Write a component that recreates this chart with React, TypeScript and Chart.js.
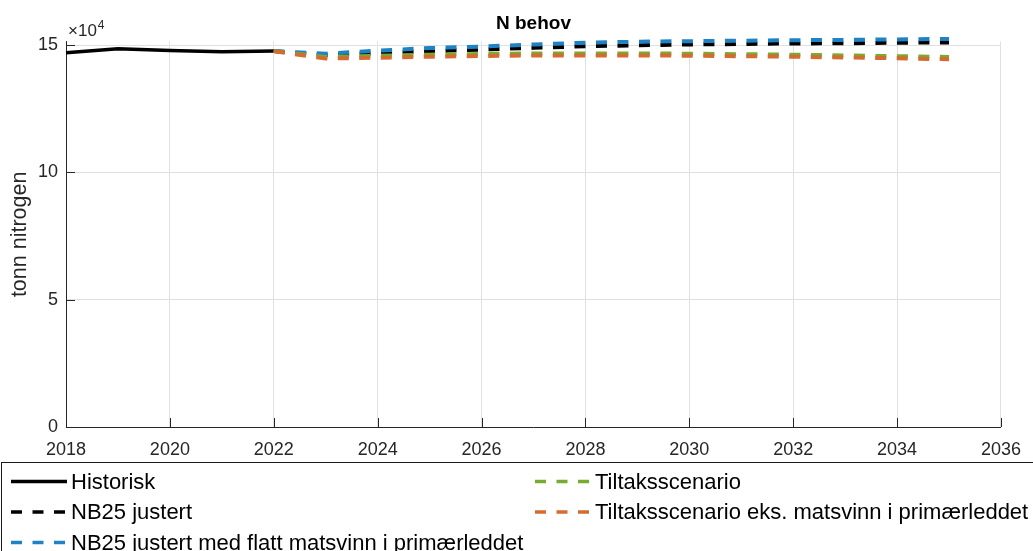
import React, { useEffect, useRef } from "react";
import { Chart, registerables } from "chart.js";

Chart.register(...registerables);

// Historical nitrogen demand (tonnes)
const historyYears = [2018, 2019, 2020, 2021, 2022];
const historisk = [147000, 148500, 147800, 147400, 147600];

// Scenario projections (tonnes)
const scenarioYears = [2022, 2023, 2024, 2025, 2026, 2027, 2028, 2029, 2030, 2031, 2032, 2033, 2034, 2035];
const nb25Justert = [147600, 146000, 146800, 147600, 148200, 148900, 149500, 149900, 150200, 150400, 150600, 150700, 150900, 151000];
const nb25Flat = [147600, 146600, 147800, 148800, 149400, 150200, 150900, 151300, 151500, 151700, 151900, 152000, 152200, 152400];
const tiltak = [147600, 145300, 145800, 146200, 146500, 146700, 146700, 146700, 146600, 146400, 146200, 145900, 145600, 145300];
const tiltakEks = [147600, 144700, 145000, 145400, 145700, 145900, 145900, 145900, 145800, 145600, 145400, 145100, 144800, 144400];

const seriesLabels = [
  "Historisk",
  "NB25 justert",
  "NB25 justert med flatt matsvinn i primærleddet",
  "Tiltaksscenario",
  "Tiltaksscenario eks. matsvinn i primærleddet",
];

// Axis ticks
const xTicks = [2018, 2020, 2022, 2024, 2026, 2028, 2030, 2032, 2034, 2036];
const yTicks = [0, 50000, 100000, 150000];
const yTickLabels = ["0", "5", "10", "15"];
const yExponent = "4";

const titleText = "N behov";
const yAxisTitle = "tonn nitrogen";

const FONT = "'Liberation Sans', Arial, Helvetica, sans-serif";
const AXIS_COLOR = "#262626";
const GRID_COLOR = "#e0e0e0";
const DASH = [11, 10.5];

const toPoints = (xs: number[], ys: number[]) => xs.map((x, i) => ({ x, y: ys[i] }));

const figurePlugin = {
  id: "figureDecor",
  beforeDraw(chart: any) {
    const { ctx, width, height } = chart;
    ctx.save();
    ctx.fillStyle = "#ffffff";
    ctx.fillRect(0, 0, width, height);
    ctx.restore();
  },
  afterDraw(chart: any) {
    const { ctx, chartArea } = chart;
    const xs = chart.scales.x;
    const ys = chart.scales.y;
    const { left, right, top, bottom } = chartArea;
    ctx.save();

    // inward tick marks
    ctx.strokeStyle = AXIS_COLOR;
    ctx.lineWidth = 1;
    ctx.setLineDash([]);
    ctx.beginPath();
    xTicks.forEach((v) => {
      const px = Math.round(xs.getPixelForValue(v)) + 0.5;
      ctx.moveTo(px, bottom);
      ctx.lineTo(px, bottom - 9);
    });
    yTicks.forEach((v) => {
      const py = Math.round(ys.getPixelForValue(v)) + 0.5;
      ctx.moveTo(left, py);
      ctx.lineTo(left + 9, py);
    });
    ctx.stroke();

    // exponent above the y axis
    ctx.fillStyle = AXIS_COLOR;
    ctx.textBaseline = "alphabetic";
    ctx.textAlign = "left";
    ctx.font = `17px ${FONT}`;
    const base = "\u00d710";
    ctx.fillText(base, left + 2, top - 6);
    const bw = ctx.measureText(base).width;
    ctx.font = `12px ${FONT}`;
    ctx.fillText(yExponent, left + 2 + bw + 1, top - 13);

    // title
    ctx.fillStyle = "#000000";
    ctx.font = `bold 19px ${FONT}`;
    ctx.textAlign = "center";
    ctx.fillText(titleText, (left + right) / 2, 29);

    // y axis title
    ctx.save();
    ctx.translate(20, (top + bottom) / 2);
    ctx.rotate(-Math.PI / 2);
    ctx.font = `21.5px ${FONT}`;
    ctx.fillStyle = AXIS_COLOR;
    ctx.textAlign = "center";
    ctx.textBaseline = "middle";
    ctx.fillText(yAxisTitle, 0, 0);
    ctx.restore();

    // legend box
    ctx.fillStyle = "#ffffff";
    ctx.strokeStyle = "#1a1a1a";
    ctx.lineWidth = 1;
    ctx.fillRect(1.5, 462.5, 1040, 120);
    ctx.strokeRect(1.5, 462.5, 1040, 120);

    const rows = [481.5, 512, 542.5];
    const cols = [11, 535];
    const layout = [
      [0, 0],
      [0, 1],
      [0, 2],
      [1, 0],
      [1, 1],
    ];
    const datasets = chart.data.datasets;
    ctx.font = `22px ${FONT}`;
    ctx.textAlign = "left";
    ctx.textBaseline = "middle";
    layout.forEach(([c, r], i) => {
      const ds = datasets[i];
      const x0 = cols[c];
      const y = rows[r];
      ctx.strokeStyle = ds.borderColor;
      ctx.lineWidth = 3.5;
      ctx.setLineDash(ds.borderDash || []);
      ctx.beginPath();
      ctx.moveTo(x0, y);
      ctx.lineTo(x0 + 56, y);
      ctx.stroke();
      ctx.setLineDash([]);
      ctx.fillStyle = "#000000";
      ctx.fillText(ds.label, x0 + 60, y + 1);
    });

    ctx.restore();
  },
};

export default function App() {
  const canvasRef = useRef<HTMLCanvasElement | null>(null);

  useEffect(() => {
    document.body.style.margin = "0";
    const canvas = canvasRef.current;
    if (!canvas) return;

    const line = (label: string, pts: any[], color: string, dashed: boolean, order: number) => ({
      label,
      data: pts,
      borderColor: color,
      backgroundColor: color,
      borderWidth: dashed ? 4 : 3.5,
      borderDash: dashed ? DASH : [],
      borderCapStyle: "butt",
      pointRadius: 0,
      pointHoverRadius: 0,
      tension: 0,
      fill: false,
      clip: false,
      order,
    });

    const chart = new Chart(canvas, {
      type: "line",
      data: {
        datasets: [
          line(seriesLabels[0], toPoints(historyYears, historisk), "#000000", false, 4),
          line(seriesLabels[1], toPoints(scenarioYears, nb25Justert), "#000000", true, 3),
          line(seriesLabels[2], toPoints(scenarioYears, nb25Flat), "#1f82c4", true, 2),
          line(seriesLabels[3], toPoints(scenarioYears, tiltak), "#77AC30", true, 1),
          line(seriesLabels[4], toPoints(scenarioYears, tiltakEks), "#D46B30", true, 0),
        ] as any,
      },
      options: {
        responsive: false,
        animation: false,
        events: [],
        layout: { padding: { left: 0, right: 30, top: 41.7, bottom: 90 } },
        plugins: {
          legend: { display: false },
          title: { display: false },
          tooltip: { enabled: false },
        },
        scales: {
          x: {
            type: "linear",
            min: 2018,
            max: 2036,
            afterFit: (s: any) => {
              s.height = 34;
            },
            afterBuildTicks: (s: any) => {
              s.ticks = xTicks.map((v) => ({ value: v }));
            },
            ticks: {
              color: AXIS_COLOR,
              font: { family: FONT, size: 18 },
              padding: 12,
              maxRotation: 0,
              autoSkip: false,
              callback: (v: any) => String(v),
            },
            grid: { color: GRID_COLOR, drawTicks: false, lineWidth: 1 },
            border: { display: true, color: AXIS_COLOR, width: 1 },
          },
          y: {
            type: "linear",
            min: 0,
            max: 151300,
            afterFit: (s: any) => {
              s.width = 66;
            },
            afterBuildTicks: (s: any) => {
              s.ticks = yTicks.map((v) => ({ value: v }));
            },
            ticks: {
              color: AXIS_COLOR,
              font: { family: FONT, size: 18 },
              padding: 8,
              autoSkip: false,
              callback: (v: any) => {
                const i = yTicks.indexOf(Number(v));
                return i >= 0 ? yTickLabels[i] : "";
              },
            },
            grid: { color: GRID_COLOR, drawTicks: false, lineWidth: 1 },
            border: { display: true, color: AXIS_COLOR, width: 1 },
          },
        },
      } as any,
      plugins: [figurePlugin],
    });

    return () => chart.destroy();
  }, []);

  return (
    <div style={{ width: 1033, height: 551 }}>
      <canvas ref={canvasRef} width={1033} height={551} style={{ display: "block" }} />
    </div>
  );
}
